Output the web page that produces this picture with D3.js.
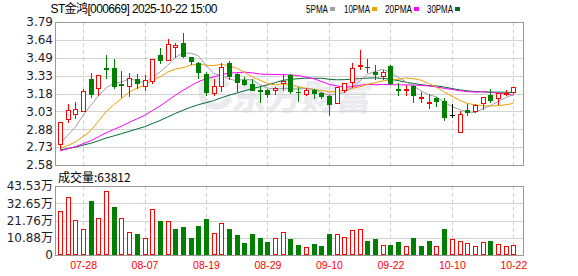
<!DOCTYPE html>
<html><head><meta charset="utf-8">
<script src="https://cdn.jsdelivr.net/npm/d3@7/dist/d3.min.js"></script>
<style>html,body{margin:0;padding:0;background:#fff;overflow:hidden}</style>
</head><body>
<svg id="c" width="578" height="276"></svg>
<script>
const dates = ["07-23","07-24","07-25","07-28","07-29","07-30","07-31","08-01","08-04","08-05","08-06","08-07","08-08","08-11","08-12","08-13","08-14","08-15","08-18","08-19","08-20","08-21","08-22","08-25","08-26","08-27","08-28","08-29","09-01","09-02","09-03","09-04","09-05","09-08","09-09","09-10","09-11","09-12","09-15","09-16","09-17","09-18","09-19","09-22","09-23","09-24","09-25","09-26","09-29","09-30","10-09","10-10","10-13","10-14","10-15","10-16","10-17","10-20","10-21","10-22"];
const opens  = [2.755,2.966,3.009,3.040,3.305,3.229,3.398,3.398,3.262,3.246,3.305,3.246,3.294,3.511,3.469,3.576,3.609,3.491,3.440,3.347,3.192,3.248,3.443,3.353,3.296,3.263,3.215,3.217,3.212,3.271,3.344,3.200,3.178,3.212,3.189,3.164,3.107,3.212,3.282,3.420,3.412,3.367,3.330,3.418,3.220,3.215,3.248,3.147,3.110,3.147,3.122,3.000,2.859,3.048,3.037,3.107,3.169,3.147,3.181,3.198];
const highs  = [2.941,3.093,3.113,3.220,3.361,3.339,3.511,3.474,3.375,3.356,3.347,3.339,3.474,3.567,3.643,3.609,3.694,3.497,3.454,3.367,3.310,3.443,3.457,3.358,3.325,3.305,3.240,3.226,3.240,3.353,3.353,3.240,3.232,3.226,3.198,3.169,3.243,3.274,3.443,3.550,3.474,3.423,3.381,3.429,3.274,3.254,3.254,3.198,3.184,3.153,3.147,3.100,3.034,3.099,3.099,3.153,3.220,3.186,3.212,3.237];
const lows   = [2.721,2.947,2.975,3.040,3.153,3.175,3.313,3.229,3.158,3.167,3.229,3.215,3.271,3.446,3.469,3.497,3.497,3.432,3.319,3.175,3.169,3.203,3.310,3.206,3.254,3.212,3.113,3.155,3.178,3.217,3.189,3.119,3.169,3.147,3.150,3.006,3.107,3.198,3.240,3.395,3.367,3.305,3.310,3.263,3.169,3.175,3.113,3.113,3.065,3.079,2.964,2.990,2.859,3.006,3.028,3.057,3.113,3.099,3.169,3.186];
const closes = [2.941,3.045,3.051,3.206,3.178,3.339,3.392,3.245,3.255,3.313,3.271,3.302,3.474,3.469,3.601,3.595,3.502,3.463,3.364,3.198,3.246,3.409,3.330,3.282,3.263,3.217,3.209,3.184,3.234,3.294,3.206,3.195,3.212,3.192,3.164,3.099,3.237,3.274,3.404,3.426,3.406,3.347,3.367,3.274,3.215,3.220,3.169,3.153,3.116,3.122,2.990,3.000,3.010,3.028,3.085,3.153,3.127,3.186,3.192,3.237];
const volumes = [27.76,36.4,22.08,16.4,34.07,23.34,40.18,30.28,23.34,14.51,13.25,10.72,29.02,21.45,21.26,16.6,17.66,10.72,18.3,22.71,13.69,20.19,16.6,12.62,7.76,13.25,10.9,8.39,10.72,14.51,10.3,6.31,5.05,6.94,5.68,13.25,13.25,11.36,15.58,16.4,8.83,10.09,6.31,6.31,8.2,5.68,10.72,5.68,8.83,5.68,16.4,10.09,8.64,7.57,5.68,8.2,8.83,6.75,5.68,6.38];
const ma5  = [2.763,2.832,2.900,3.000,3.084,3.164,3.233,3.272,3.282,3.309,3.295,3.277,3.323,3.366,3.423,3.488,3.528,3.526,3.505,3.424,3.355,3.336,3.309,3.293,3.306,3.300,3.260,3.231,3.221,3.228,3.225,3.223,3.228,3.220,3.194,3.172,3.181,3.193,3.236,3.288,3.349,3.371,3.390,3.364,3.322,3.285,3.249,3.206,3.175,3.156,3.110,3.076,3.048,3.030,3.023,3.055,3.081,3.116,3.149,3.179];
const ma10 = [2.721,2.745,2.775,2.820,2.870,2.950,3.031,3.090,3.140,3.197,3.230,3.255,3.298,3.324,3.366,3.392,3.403,3.425,3.435,3.424,3.421,3.432,3.418,3.399,3.365,3.327,3.298,3.270,3.257,3.267,3.263,3.241,3.230,3.221,3.211,3.199,3.202,3.211,3.228,3.241,3.261,3.276,3.292,3.300,3.305,3.317,3.310,3.298,3.269,3.239,3.197,3.163,3.127,3.102,3.089,3.083,3.078,3.082,3.089,3.101];
const ma20 = [2.700,2.717,2.735,2.760,2.785,2.818,2.853,2.880,2.909,2.940,2.970,3.000,3.040,3.078,3.124,3.170,3.211,3.250,3.284,3.310,3.325,3.344,3.358,3.361,3.366,3.360,3.350,3.347,3.346,3.345,3.342,3.337,3.324,3.310,3.288,3.263,3.250,3.240,3.242,3.254,3.262,3.259,3.261,3.260,3.258,3.258,3.256,3.254,3.249,3.240,3.229,3.219,3.209,3.201,3.197,3.200,3.194,3.190,3.179,3.170];
const ma30 = [2.708,2.719,2.731,2.748,2.764,2.785,2.808,2.826,2.845,2.865,2.884,2.904,2.930,2.956,2.986,3.016,3.043,3.068,3.090,3.107,3.125,3.149,3.170,3.189,3.208,3.225,3.242,3.258,3.276,3.296,3.305,3.310,3.315,3.314,3.314,3.306,3.301,3.302,3.307,3.311,3.315,3.317,3.313,3.306,3.294,3.281,3.270,3.260,3.251,3.249,3.240,3.227,3.216,3.208,3.202,3.200,3.197,3.197,3.195,3.194];
const priceTicks = [3.79,3.639,3.488,3.336,3.185,3.034,2.883,2.731,2.58];
const priceLabels = ["3.79","3.64","3.49","3.33","3.18","3.03","2.88","2.73","2.58"];
const volTicks = [43.53,32.65,21.76,10.88,0];
const volLabels = ["43.53万","32.65万","21.76万","10.88万","0"];
const dateTicks = ["07-28","08-07","08-19","08-29","09-10","09-22","10-10","10-22"];
const maNames = ["5PMA","10PMA","20PMA","30PMA"];
const maColors = ["#a0a0a0","#f0a000","#ff00ff","#006c32"];
const title = "ST金鸿[000669] 2025-10-22 15:00";
const volTitle = "成交量:63812";

const svg = d3.select("#c");
const L=55, R=523, pT=22, pB=165, vT=186, vB=255;
const x = d3.scalePoint().domain(dates).range([60, 513.3]);
const y = d3.scaleLinear().domain([2.58,3.79]).range([pB,pT]);
const yv = d3.scaleLinear().domain([0,43.53]).range([vB,vT]);
const RED="#ff0000", GREEN="#008000";
const px = v => Math.round(v)+0.5;

// watermark
const wm = svg.append("g").attr("fill","none");
wm.append("path").attr("d","M226,84 C214,74 200,80 202,94 C204,108 222,110 228,100")
  .attr("stroke","#ebebef").attr("stroke-width",7).attr("stroke-linecap","round");
svg.append("text").attr("x",232).attr("y",110).text("东方财富")
  .attr("font-family","'Noto Sans CJK SC'").attr("font-weight",900).attr("font-size",35)
  .attr("fill","#ebebef").attr("transform","skewX(-8) translate(14,0)");

// gridlines
const grid = svg.append("g");
priceTicks.slice(1,-1).forEach(v=>{
  grid.append("line").attr("x1",L).attr("x2",R).attr("y1",px(y(v))).attr("y2",px(y(v))).attr("stroke","#d2d2d2");
});
volTicks.slice(1,-1).forEach(v=>{
  grid.append("line").attr("x1",L).attr("x2",R).attr("y1",px(yv(v))).attr("y2",px(yv(v))).attr("stroke","#d2d2d2");
});
dateTicks.forEach(d=>{
  const xx = px(x(d));
  grid.append("line").attr("x1",xx).attr("x2",xx).attr("y1",pT).attr("y2",pB).attr("stroke","#cfcfcf").attr("stroke-dasharray","4,3");
  grid.append("line").attr("x1",xx).attr("x2",xx).attr("y1",vT).attr("y2",vB).attr("stroke","#cfcfcf").attr("stroke-dasharray","4,3");
});

// MA lines
const mas=[ma5,ma10,ma20,ma30];
mas.slice().reverse().forEach((m,k)=>{
  const idx = 3-k;
  const line = d3.line().x((d,i)=>x(dates[i])).y(d=>y(d));
  svg.append("path").attr("d",line(m)).attr("fill","none").attr("stroke",maColors[idx]).attr("stroke-width",1);
});

// candles
const cg = svg.append("g");
dates.forEach((d,i)=>{
  const cx = Math.round(x(d));
  const o=opens[i], c=closes[i], h=highs[i], l=lows[i];
  const col = c>o ? RED : (c<o ? GREEN : "#000");
  const yTop = y(Math.max(o,c)), yBot = y(Math.min(o,c));
  cg.append("line").attr("x1",cx+0.5).attr("x2",cx+0.5).attr("y1",Math.round(y(h))).attr("y2",Math.round(y(l))+1).attr("stroke",col);
  if (c>o) {
    const t=Math.round(yTop), b=Math.round(yBot);
    cg.append("rect").attr("x",cx-2+0.5).attr("y",t+0.5).attr("width",4).attr("height",Math.max(1,b-t)).attr("fill","#fff").attr("stroke",RED);
  } else if (c<o) {
    const t=Math.round(yTop), b=Math.round(yBot);
    cg.append("rect").attr("x",cx-2).attr("y",t).attr("width",5).attr("height",Math.max(1,b-t+1)).attr("fill",GREEN);
  } else {
    cg.append("line").attr("x1",cx-2).attr("x2",cx+3).attr("y1",px(yTop)).attr("y2",px(yTop)).attr("stroke","#000");
  }
});

// volume bars
const vg = svg.append("g");
dates.forEach((d,i)=>{
  const cx = Math.round(x(d));
  const up = i===0 || closes[i] >= closes[i-1];
  const t = Math.round(yv(volumes[i]));
  if (up) vg.append("rect").attr("x",cx-2+0.5).attr("y",t+0.5).attr("width",4).attr("height",vB-t-1).attr("fill","#fff").attr("stroke",RED);
  else vg.append("rect").attr("x",cx-2).attr("y",t).attr("width",5).attr("height",vB-t).attr("fill",GREEN);
});

// borders
svg.append("rect").attr("x",L+0.5).attr("y",pT+0.5).attr("width",R-L).attr("height",pB-pT).attr("fill","none").attr("stroke","#999");
svg.append("rect").attr("x",L+0.5).attr("y",vT+0.5).attr("width",R-L).attr("height",vB-vT).attr("fill","none").attr("stroke","#999");

// axes
const ax1 = svg.append("g").attr("transform",`translate(${L},0)`)
  .call(d3.axisLeft(y).tickValues(priceTicks).tickFormat((d,i)=>priceLabels[i]).tickSize(0).tickPadding(2));
const ax2 = svg.append("g").attr("transform",`translate(${L},0)`)
  .call(d3.axisLeft(yv).tickValues(volTicks).tickFormat((d,i)=>volLabels[i]).tickSize(0).tickPadding(2));
[ax1,ax2].forEach(a=>{a.select(".domain").remove();
  a.selectAll("text").attr("font-family","'DejaVu Sans','Noto Sans CJK SC'").attr("font-size",12).attr("fill","#1c1c30");});
const ax3 = svg.append("g").attr("transform",`translate(0,${vB})`)
  .call(d3.axisBottom(x).tickValues(dateTicks).tickSize(0).tickPadding(7));
ax3.select(".domain").remove();
ax3.selectAll("text").attr("font-family","'Liberation Sans'").attr("font-size",10.5).attr("fill",RED);

// titles and legend
svg.append("text").attr("x",50.5).attr("y",13).text(title)
  .attr("textLength",167).attr("lengthAdjust","spacing")
  .attr("font-family","'Liberation Sans','Noto Sans CJK SC'").attr("font-size",12).attr("fill","#000");
const legX = [306,344,385,427], legW=[22,26,27,26];
maNames.forEach((n,i)=>{
  svg.append("text").attr("x",legX[i]).attr("y",13).text(n).attr("textLength",legW[i]).attr("lengthAdjust","spacingAndGlyphs")
    .attr("font-family","'Liberation Sans'").attr("font-size",11).attr("fill","#000");
  svg.append("rect").attr("x",legX[i]+legW[i]+2).attr("y",7).attr("width",5).attr("height",4).attr("fill",maColors[i]);
});
svg.append("text").attr("x",58).attr("y",182).text(volTitle)
  .attr("font-family","'Noto Sans CJK SC','Liberation Sans'").attr("font-size",12).attr("fill","#000");
</script>
</body></html>
